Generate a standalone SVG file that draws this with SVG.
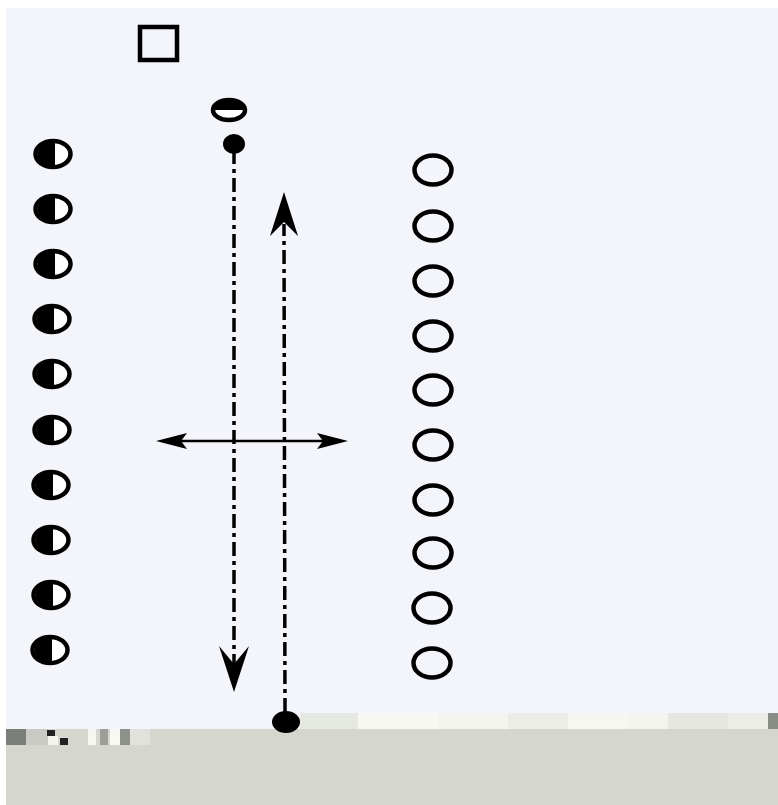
<svg xmlns="http://www.w3.org/2000/svg" width="778" height="805" viewBox="0 0 778 805">
  <style>
    .half { fill: #fff; stroke: #000; stroke-width: 4.5; }
    .open { fill: none; stroke: #000; stroke-width: 4.5; }
    .dash { fill: none; stroke: #000; stroke-width: 3.5; stroke-dasharray: 14 5 4 5; }
    .thin { fill: none; stroke: #000; stroke-width: 2.5; }
    .ink { fill: #000; }
  </style>
  <defs>
    <g id="halfDisc">
      <ellipse cx="0" cy="0" rx="17.5" ry="13" class="half"/>
      <path d="M 2 -13 A 17.5 13 0 0 0 2 13 Z" class="ink"/>
    </g>
    <g id="ring">
      <ellipse cx="0" cy="0" rx="18.5" ry="14.5" class="open"/>
    </g>
  </defs>

  <!-- page -->
  <rect x="0" y="0" width="778" height="805" fill="#ffffff"/>
  <rect x="6" y="8" width="772" height="722" fill="#f4f5fa"/>

  <!-- lower band with strip -->
  <g id="band">
    <rect x="6" y="729" width="772" height="76" fill="#d5d7cf"/>
    <rect x="300" y="713" width="58" height="16" fill="#e6e8e2"/>
    <rect x="358" y="713" width="80" height="16" fill="#f8f8f2"/>
    <rect x="438" y="713" width="70" height="16" fill="#f4f5ee"/>
    <rect x="508" y="713" width="60" height="16" fill="#ecede7"/>
    <rect x="568" y="713" width="60" height="16" fill="#f6f7f1"/>
    <rect x="628" y="713" width="40" height="16" fill="#f3f4ee"/>
    <rect x="668" y="713" width="60" height="16" fill="#e6e7e1"/>
    <rect x="728" y="713" width="40" height="16" fill="#ecede7"/>
    <rect x="768" y="713" width="10" height="16" fill="#8a8c86"/>
    <rect x="6" y="729" width="20" height="16" fill="#7c7e79"/>
    <rect x="26" y="729" width="22" height="16" fill="#c8cac3"/>
    <rect x="47" y="730" width="8" height="6" fill="#222"/>
    <rect x="48" y="736" width="10" height="9" fill="#f4f5ef"/>
    <rect x="60" y="738" width="8" height="7" fill="#222"/>
    <rect x="88" y="729" width="8" height="16" fill="#f6f7f1"/>
    <rect x="100" y="729" width="8" height="16" fill="#9c9e98"/>
    <rect x="110" y="729" width="10" height="16" fill="#f8f9f3"/>
    <rect x="120" y="729" width="10" height="16" fill="#8e908a"/>
    <rect x="130" y="729" width="20" height="16" fill="#e0e2db"/>
  </g>

  <!-- top square -->
  <g id="square">
    <rect x="140" y="27" width="37" height="33" fill="none" stroke="#000" stroke-width="4.5"/>
  </g>

  <!-- top cap node -->
  <g id="cap">
    <ellipse cx="229" cy="110" rx="16" ry="10" fill="#fff" stroke="#000" stroke-width="4.5"/>
    <path d="M 213 110 A 16 10 0 0 1 245 110 Z" class="ink"/>
  </g>

  <!-- left column -->
  <g id="left-column">
    <use href="#halfDisc" x="53" y="154"/>
    <use href="#halfDisc" x="53" y="209"/>
    <use href="#halfDisc" x="53" y="264"/>
    <use href="#halfDisc" x="52" y="319"/>
    <use href="#halfDisc" x="52" y="374"/>
    <use href="#halfDisc" x="52" y="430"/>
    <use href="#halfDisc" x="51" y="485"/>
    <use href="#halfDisc" x="51" y="540"/>
    <use href="#halfDisc" x="51" y="595"/>
    <use href="#halfDisc" x="50" y="650"/>
  </g>

  <!-- right column -->
  <g id="right-column">
    <use href="#ring" x="433" y="170"/>
    <use href="#ring" x="433" y="226"/>
    <use href="#ring" x="433" y="281"/>
    <use href="#ring" x="433" y="336"/>
    <use href="#ring" x="433" y="390"/>
    <use href="#ring" x="433" y="445"/>
    <use href="#ring" x="433" y="500"/>
    <use href="#ring" x="433" y="553"/>
    <use href="#ring" x="432" y="608"/>
    <use href="#ring" x="432" y="663"/>
  </g>

  <!-- connectors -->
  <g id="connectors">
    <!-- downward run -->
    <ellipse cx="234" cy="144" rx="11" ry="10" class="ink"/>
    <line x1="234" y1="150" x2="234" y2="668" class="dash"/>
    <path d="M 234 692 L 219 646 L 234 664 L 249 646 Z" class="ink"/>
    <!-- upward run -->
    <ellipse cx="286" cy="722" rx="14" ry="11" class="ink"/>
    <line x1="285" y1="712" x2="284" y2="224" class="dash"/>
    <path d="M 284 192 L 270 236 L 284 222 L 298 236 Z" class="ink"/>
    <!-- lateral double arrow -->
    <line x1="170" y1="441" x2="334" y2="441" class="thin"/>
    <path d="M 156 441 L 187 433 L 181 441 L 187 449 Z" class="ink"/>
    <path d="M 348 441 L 317 433 L 323 441 L 317 449 Z" class="ink"/>
  </g>
</svg>
